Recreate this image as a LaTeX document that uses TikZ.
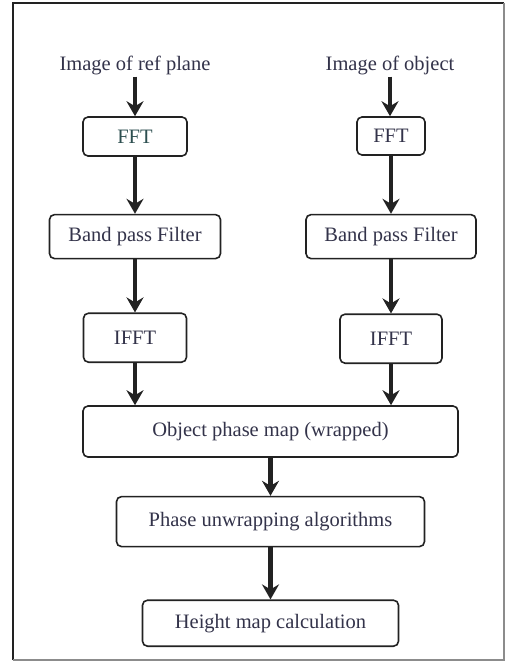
\documentclass[tikz,border=0pt]{standalone}
\usepackage{fontspec}
\setmainfont{Liberation Serif}
\usetikzlibrary{arrows.meta, positioning, calc}

\definecolor{inkgray}{HTML}{222222}
\definecolor{txtgray}{HTML}{33334A}
\definecolor{fftteal}{HTML}{2D4F50}

\begin{document}
\begin{tikzpicture}
  [
  x = 1pt, y = -1pt,
  font = \fontsize{20.5}{24}\selectfont,
  % boxes
  block/.style = {rectangle, rounded corners = 5pt, draw = inkgray,
    line width = 1.6pt, inner sep = 0pt, text = txtgray},
  % labels
  lbl/.style = {inner sep = 2pt, text = txtgray},
  % arrows
  line/.style = {draw = inkgray, line width = 4.5pt,
    -{Stealth[length = 15pt, width = 17pt, inset = 5pt]}},
  ]
  \useasboundingbox (0,0) rectangle (507,662);

  % frame
  \draw [line width = 2.5pt, inkgray] (13,660) -- (13,3) -- (504,3);
  \draw [line width = 1.5pt, black!45] (504,3) -- (504,660) -- (13,660);

  % left column
  \node [lbl] (ref) at (135,65) {Image of ref plane};
  \node [block, minimum width = 104pt, minimum height = 39pt, text = fftteal]
    (fftref) at (135,136.5) {FFT};
  \node [block, minimum width = 171pt, minimum height = 44pt,
    below = 57pt of fftref] (bpref) {Band pass Filter};
  \node [block, minimum width = 103pt, minimum height = 49pt,
    below = 53pt of bpref] (ifftref) {IFFT};

  % right column
  \node [lbl] (obj) at (390,65) {Image of object};
  \node [block, minimum width = 68pt, minimum height = 38pt]
    (fftobj) at (391,136) {FFT};
  \node [block, minimum width = 170pt, minimum height = 44pt,
    below = 58pt of fftobj] (bpobj) {Band pass Filter};
  \node [block, minimum width = 102pt, minimum height = 49pt,
    below = 54pt of bpobj] (ifftobj) {IFFT};

  % joined part
  \node [block, minimum width = 375pt, minimum height = 51pt]
    (phase) at (270.5,431.5) {Object phase map (wrapped)};
  \node [block, minimum width = 308pt, minimum height = 50pt,
    below = 38pt of phase] (unwrap) {Phase unwrapping algorithms};
  \node [block, minimum width = 256pt, minimum height = 46pt,
    below = 52pt of unwrap] (height) {Height map calculation};

  % path
  \path [line] (ref) -- (fftref);
  \path [line] (fftref) -- (bpref);
  \path [line] (bpref) -- (ifftref);
  \path [line] (ifftref) -- (ifftref |- phase.north);
  \path [line] (obj) -- (obj |- fftobj.north);
  \path [line] (fftobj) -- (bpobj);
  \path [line] (bpobj) -- (ifftobj);
  \path [line] (ifftobj) -- (ifftobj |- phase.north);
  \path [line] (phase) -- (unwrap);
  \path [line] (unwrap) -- (height);

\end{tikzpicture}
\end{document}
